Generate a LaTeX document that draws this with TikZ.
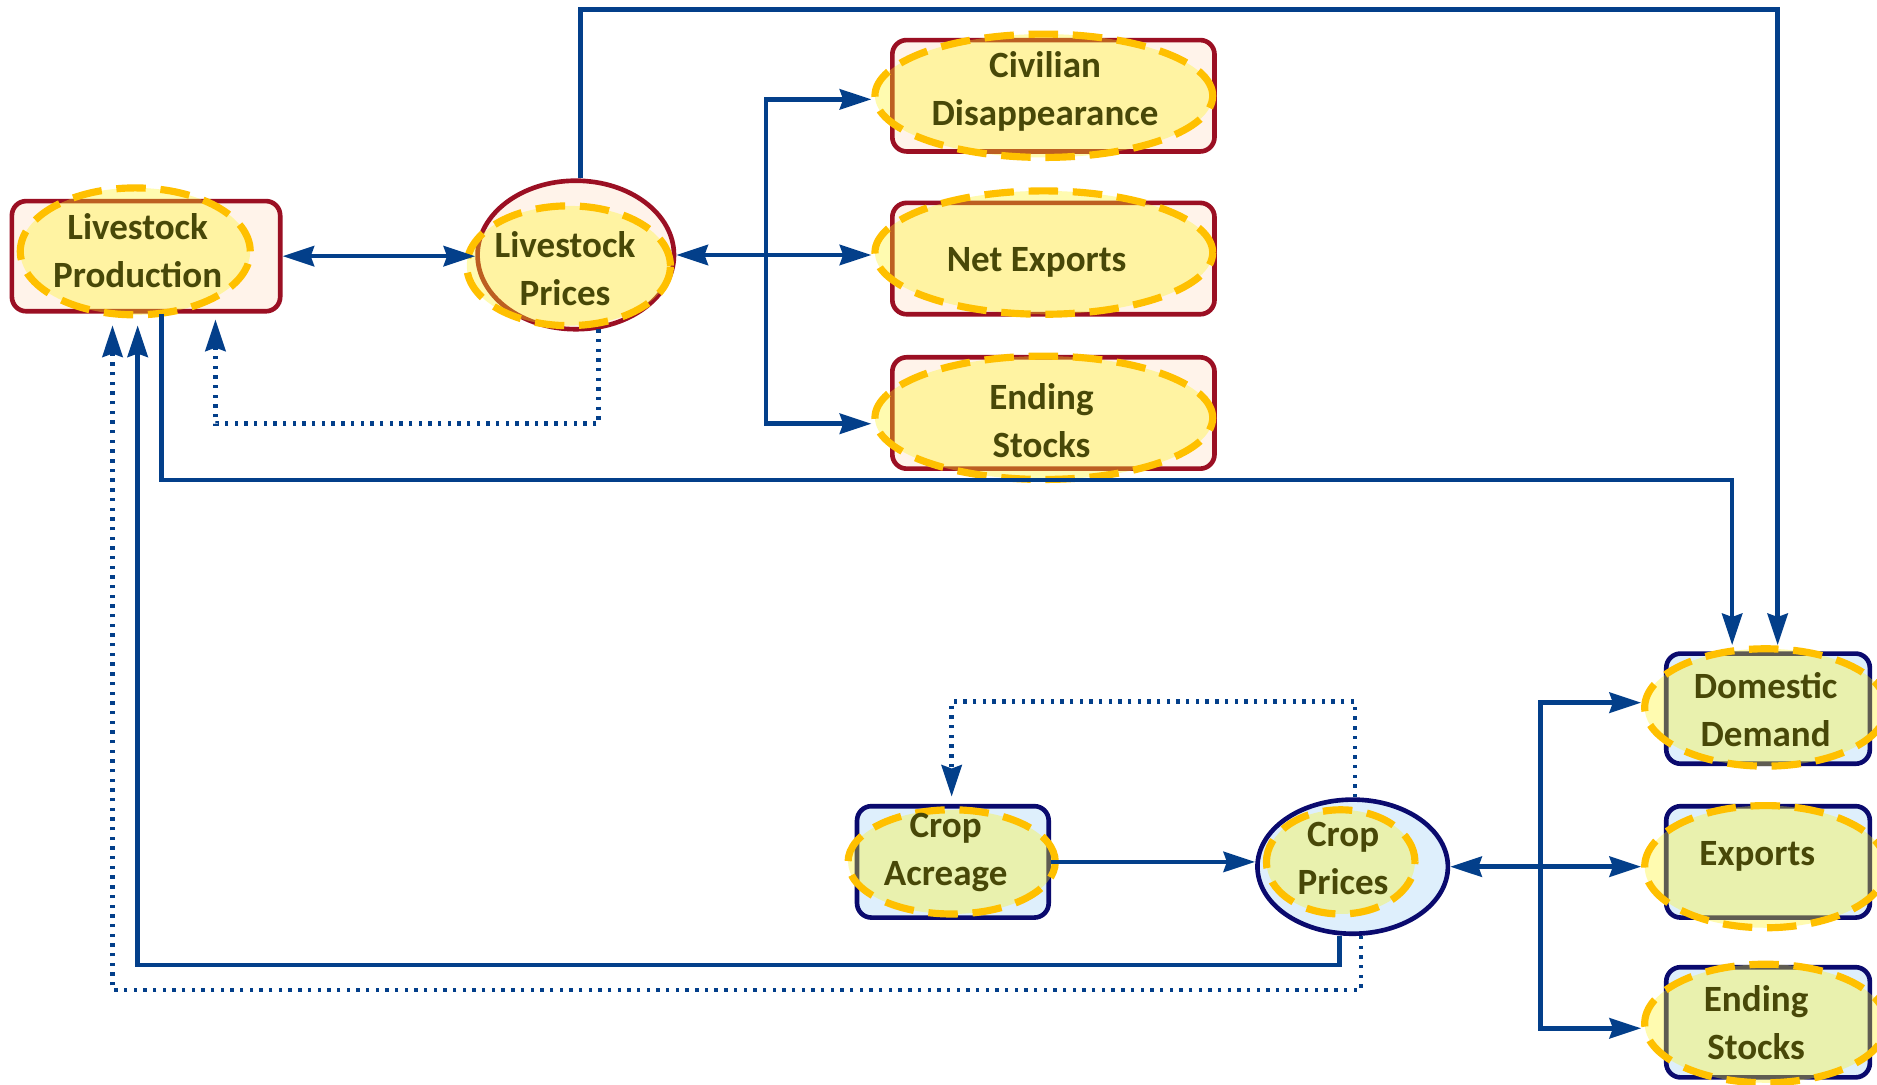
\documentclass[tikz,border=0pt]{standalone}
\usepackage{fontspec}
\setmainfont{Carlito}
\usetikzlibrary{shapes.geometric,arrows.meta}

\definecolor{boxred}{RGB}{155,15,35}
\definecolor{boxpink}{RGB}{255,243,234}
\definecolor{boxnavy}{RGB}{10,10,110}
\definecolor{boxblue}{RGB}{222,239,252}
\definecolor{ovalyellow}{RGB}{255,245,30}
\definecolor{ovaldash}{RGB}{255,192,0}
\definecolor{linkblue}{RGB}{3,63,138}
\definecolor{labelolive}{RGB}{72,72,8}

\begin{document}
\begin{tikzpicture}[x=0.01cm,y=-0.01cm,
    >={Stealth[length=7.5pt,width=4.8pt,inset=0.8pt]},
    livebox/.style={draw=boxred,fill=boxpink,line width=1.1pt,rounded corners=0.12cm,inner sep=0pt},
    cropbox/.style={draw=boxnavy,fill=boxblue,line width=1.1pt,rounded corners=0.12cm,inner sep=0pt},
    liveoval/.style={ellipse,draw=boxred,fill=boxpink,line width=1.1pt,inner sep=0pt},
    cropoval/.style={ellipse,draw=boxnavy,fill=boxblue,line width=1.1pt,inner sep=0pt},
    hilite/.style={ellipse,draw=ovaldash,fill=ovalyellow,dash pattern=on 7pt off 3.5pt,line width=1.7pt,fill opacity=0.35,inner sep=0pt},
    tag/.style={align=center,text=labelolive,inner sep=0pt,font=\fontsize{8.8}{11.4}\selectfont\bfseries},
    link/.style={draw=linkblue,line width=1.1pt},
    dotlink/.style={link,dash pattern=on 0.8pt off 1.5pt}]

    \useasboundingbox[fill=white] (0,0) rectangle (1568,906);

    \coordinate (lsplit) at (640,214);
    \coordinate (topturn) at (1485,8);
    \coordinate (lowturn) at (1447,401);
    \coordinate (lpback) at (180,354);
    \coordinate (csplit) at (1287,724);
    \coordinate (cpret) at (115,806);
    \coordinate (cpback) at (94,827);
    \coordinate (catop) at (795,586);

    \node[livebox,minimum width=2.24cm,minimum height=0.92cm] (lpbox) at (122,214) {};
    \node[liveoval,minimum width=1.64cm,minimum height=1.24cm] (lprbox) at (481,213) {};
    \node[livebox,minimum width=2.69cm,minimum height=0.93cm] (cdbox) at (880,80) {};
    \node[livebox,minimum width=2.69cm,minimum height=0.93cm] (nebox) at (880,216) {};
    \node[livebox,minimum width=2.69cm,minimum height=0.93cm] (esbox) at (880,345) {};
    \node[cropbox,minimum width=1.60cm,minimum height=0.93cm] (cabox) at (796,720) {};
    \node[cropoval,minimum width=1.59cm,minimum height=1.12cm] (cpbox) at (1130,724) {};
    \node[cropbox,minimum width=1.70cm,minimum height=0.92cm] (ddbox) at (1477,592) {};
    \node[cropbox,minimum width=1.70cm,minimum height=0.93cm] (exbox) at (1477,720) {};
    \node[cropbox,minimum width=1.70cm,minimum height=0.92cm] (cesbox) at (1477,854) {};

    \path (113,210) node[hilite,minimum width=1.92cm,minimum height=1.06cm] (lp) {}
          (475,222) node[hilite,minimum width=1.70cm,minimum height=1.00cm] (lpr) {}
          (872,80) node[hilite,minimum width=2.82cm,minimum height=1.03cm] (cd) {}
          (872,211) node[hilite,minimum width=2.82cm,minimum height=1.03cm] (ne) {}
          (872,349) node[hilite,minimum width=2.82cm,minimum height=1.03cm] (es) {}
          (795,720) node[hilite,minimum width=1.73cm,minimum height=0.87cm] (ca) {}
          (1120,720) node[hilite,minimum width=1.24cm,minimum height=0.87cm] (cp) {}
          (1475,591) node[hilite,minimum width=2.02cm,minimum height=0.98cm] (dd) {}
          (1475,724) node[hilite,minimum width=2.02cm,minimum height=1.02cm] (ex) {}
          (1475,855) node[hilite,minimum width=2.02cm,minimum height=0.99cm] (ces) {};

    \draw[link,<->] (lpbox.east) -- (lpbox.east -| lprbox.west);
    \draw[link,<->] (lprbox.east) -- (lprbox.east -| ne.west);
    \draw[link,->] (lsplit) |- ([yshift=-0.03cm]cd.west);
    \draw[link,->] (lsplit) |- ([yshift=-0.05cm]es.west);
    \draw[link,->] ([xshift=0.04cm]lprbox.north) |- (topturn) -- (topturn |- dd.north);
    \draw[link,->] ([xshift=0.13cm]lpbox.south) |- (lowturn) -- (lowturn |- dd.north);
    \draw[dotlink,->,shorten >=1.4pt] ([xshift=0.25cm]lpr.south) |- (lpback) -- (lpback |- lpbox.south);

    \draw[link,->] (cabox.east) -- (cabox.east -| cpbox.west);
    \draw[link,<->] (cpbox.east) -- (cpbox.east -| ex.west);
    \draw[link,->] (csplit) |- ([yshift=0.04cm]dd.west);
    \draw[link,->] (csplit) |- ([yshift=-0.04cm]ces.west);
    \draw[link,->,shorten >=2.8pt] ([xshift=-0.11cm]cpbox.south) |- (cpret) -- (cpret |- lpbox.south);
    \draw[dotlink,->,shorten >=2.8pt] ([xshift=0.07cm]cpbox.south) |- (cpback) -- (cpback |- lpbox.south);
    \draw[dotlink,->,shorten >=1.7pt] ([xshift=0.02cm]cpbox.north) |- (catop) -- (catop |- cabox.north);

    \node[tag] (lp-tag) at (115,209) {Livestock\\Production};
    \node[tag] (lpr-tag) at (472,224) {Livestock\\Prices};
    \node[tag] (cd-tag) at (873,76) {Civilian\\Disappearance};
    \node[tag] (ne-tag) at (866,219) {Net Exports};
    \node[tag] (es-tag) at (870,351) {Ending\\Stocks};
    \node[tag] (ca-tag) at (790,712) {Crop\\Acreage};
    \node[tag] (cp-tag) at (1122,717) {Crop\\Prices};
    \node[tag] (dd-tag) at (1475,593) {Domestic\\Demand};
    \node[tag] (ex-tag) at (1468,715) {Exports};
    \node[tag] (ces-tag) at (1467,854) {Ending\\Stocks};

\end{tikzpicture}
\end{document}
